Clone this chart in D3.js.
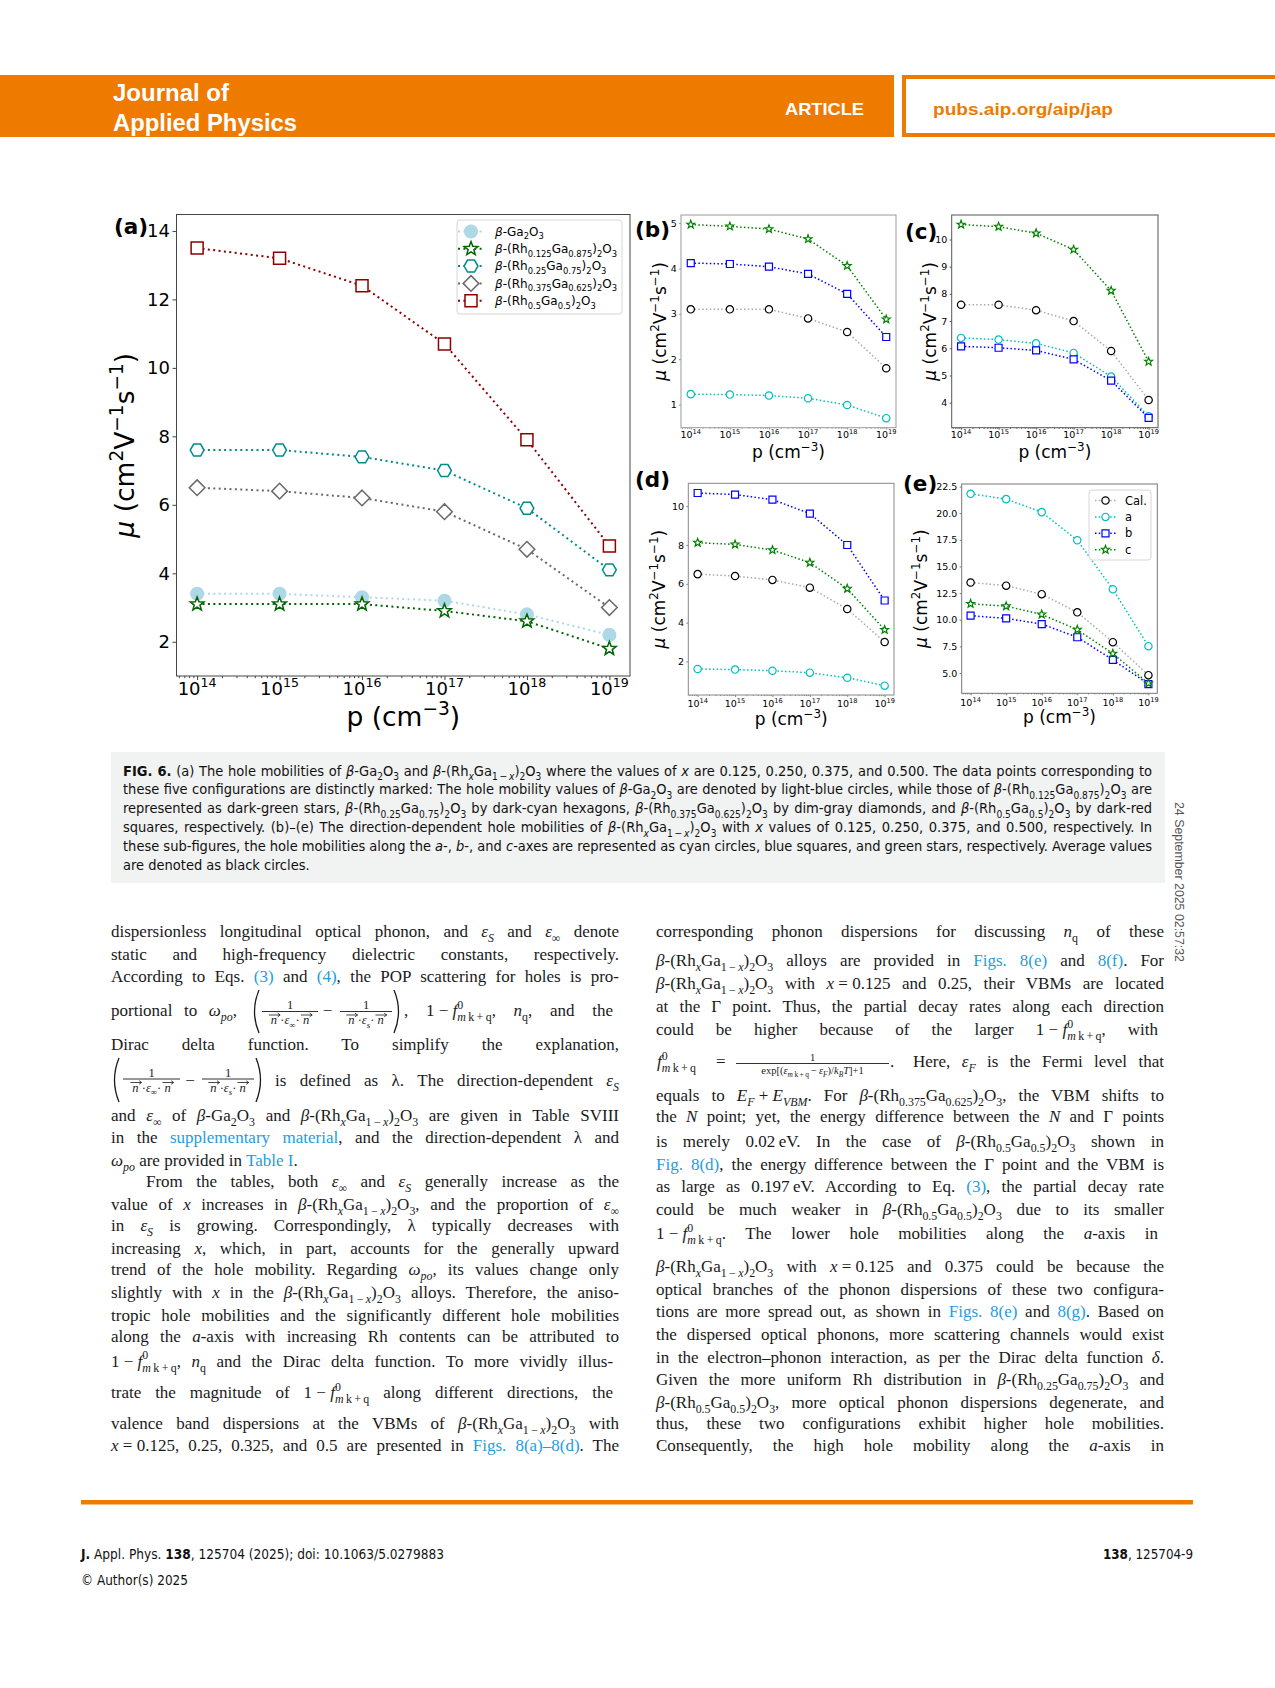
<!DOCTYPE html>
<html>
<head>
<meta charset="utf-8">
<script src="https://cdn.jsdelivr.net/npm/d3@7"></script>
<style>body{margin:0;background:#fff}</style>
</head>
<body>
<script>
// ---------- data ----------
const pConc = [1e14, 1e15, 1e16, 1e17, 1e18, 1e19];
const decadeExp = [14, 15, 16, 17, 18, 19];

// (a) average hole mobility of each configuration
const alloyLabels = ["*β*-Ga_{2}O_{3}", "*β*-(Rh_{0.125}Ga_{0.875})_{2}O_{3}", "*β*-(Rh_{0.25}Ga_{0.75})_{2}O_{3}",
  "*β*-(Rh_{0.375}Ga_{0.625})_{2}O_{3}", "*β*-(Rh_{0.5}Ga_{0.5})_{2}O_{3}"];
const muGa2O3  = [3.4, 3.4, 3.3, 3.2, 2.8, 2.2];
const muRh0125 = [3.1, 3.1, 3.1, 2.9, 2.6, 1.8];
const muRh025  = [7.6, 7.6, 7.4, 7.0, 5.9, 4.1];
const muRh0375 = [6.5, 6.4, 6.2, 5.8, 4.7, 3.0];
const muRh05   = [13.5, 13.2, 12.4, 10.7, 7.9, 4.8];

// (b)-(e) direction dependent mobilities (Cal. = average, from panel a)
const dirLabels = ["Cal.", "a", "b", "c"];
const bA = [1.23, 1.22, 1.20, 1.14, 0.99, 0.70];
const bB = [4.12, 4.10, 4.04, 3.88, 3.44, 2.49];
const bC = [4.97, 4.93, 4.87, 4.65, 4.06, 2.88];
const cA = [6.38, 6.32, 6.18, 5.83, 4.96, 3.50];
const cB = [6.07, 6.02, 5.92, 5.59, 4.81, 3.44];
const cC = [10.55, 10.47, 10.23, 9.63, 8.12, 5.51];
const dA = [1.61, 1.58, 1.52, 1.42, 1.16, 0.75];
const dB = [10.68, 10.60, 10.34, 9.62, 8.00, 5.14];
const dC = [8.12, 8.03, 7.74, 7.09, 5.75, 3.63];
const eA = [21.82, 21.32, 20.10, 17.46, 12.86, 7.52];
const eB = [10.38, 10.13, 9.60, 8.36, 6.24, 3.97];
const eC = [11.50, 11.28, 10.50, 9.07, 6.83, 4.04];

const ticksA = [2, 4, 6, 8, 10, 12, 14];
const ticksB = [1, 2, 3, 4, 5];
const ticksC = [4, 5, 6, 7, 8, 9, 10];
const ticksD = [2, 4, 6, 8, 10];
const ticksE = [5, 7.5, 10, 12.5, 15, 17.5, 20, 22.5];

// ---------- page setup ----------
const W = 1275, H = 1688;
const ORANGE = "#ef7a00", LINK = "#1f9ce0";
const SANS = "DejaVu Sans", SERIF = "Liberation Serif";
const NARROW = "'Liberation Sans Narrow','DejaVu Sans Condensed','DejaVu Sans',sans-serif";
const HEAD = "'Liberation Sans',Arial,sans-serif";
const T = "\u2009";  // thin space, used inside sub/superscripts
const M = "\u2005";  // math space around operators (not stretched by justification)

const svg = d3.select("body").append("svg")
  .attr("width", W).attr("height", H).attr("viewBox", `0 0 ${W} ${H}`);
svg.append("rect").attr("width", W).attr("height", H).attr("fill", "#fff");

// rich text: *italic*  ~bold~  <link>  _{sub}  ^{sup}
function rich(parent, str, o) {
  const fs = o.size;
  const t = parent.append("text").attr("x", o.x).attr("y", o.y)
    .attr("font-family", o.family || SANS).attr("font-size", fs)
    .attr("fill", o.fill || "#000").attr("text-anchor", o.anchor || "start");
  if (o.weight) t.attr("font-weight", o.weight);
  if (o.stretch) t.attr("font-stretch", o.stretch);
  let it = false, bd = false, ln = false, cur = 0, buf = "", pendingDx = 0, lastSup = null;
  const stack = [];
  function emit() {
    if (!buf) return;
    lastSup = null;
    const off = d3.sum(stack, s => s.off);
    const sc = Math.pow(0.7, stack.length);
    const txt = stack.length ? buf.replace(/ /g, T) : buf;
    const sp = t.append("tspan").text(txt).attr("font-size", fs * sc);
    if (Math.abs(off - cur) > 1e-6) { sp.attr("dy", off - cur); cur = off; }
    if (pendingDx) { sp.attr("dx", pendingDx); pendingDx = 0; }
    if (it) sp.attr("font-style", "italic");
    if (bd) sp.attr("font-weight", "bold");
    if (ln) sp.attr("fill", o.link || LINK);
    stack.forEach(s => s.spans.push(sp));
    buf = "";
  }
  for (let i = 0; i < str.length; i++) {
    const c = str[i];
    if ((c === "_" || c === "^") && str[i + 1] === "{") {
      emit();
      if (c === "_" && lastSup) pendingDx = -lastSup;
      lastSup = null;
      const sc = Math.pow(0.7, stack.length);
      stack.push({off: (c === "_" ? 0.3 : -0.42) * fs * sc, type: c, spans: []});
      i++;
    } else if (c === "}" && stack.length) {
      emit();
      const fr = stack.pop();
      lastSup = fr.type === "^" ? d3.sum(fr.spans, s => s.node().getComputedTextLength()) : null;
    } else if (c === "*") { emit(); it = !it; }
    else if (c === "~") { emit(); bd = !bd; }
    else if (c === "<") { emit(); ln = true; }
    else if (c === ">") { emit(); ln = false; }
    else buf += c;
  }
  emit();
  return t;
}

function justify(t, w) {
  const n = t.node();
  const len = n.getComputedTextLength();
  const spaces = (t.text().match(/ /g) || []).length;
  if (spaces > 0) t.style("word-spacing", ((w - len) / spaces) + "px");
  const len2 = n.getComputedTextLength();
  if (Math.abs(len2 - w) > 1.5) {
    t.style("word-spacing", null).attr("textLength", w)
      .attr("lengthAdjust", len > w ? "spacingAndGlyphs" : "spacing");
  }
  return t;
}
function fit(t, w) {
  return t.attr("textLength", w).attr("lengthAdjust", "spacingAndGlyphs");
}

// ---------- header ----------
svg.append("rect").attr("x", 0).attr("y", 75).attr("width", 894).attr("height", 62).attr("fill", ORANGE);
svg.append("rect").attr("x", 904).attr("y", 77).attr("width", 390).attr("height", 58)
  .attr("fill", "#fff").attr("stroke", ORANGE).attr("stroke-width", 4);
fit(svg.append("text").attr("x", 113).attr("y", 101).attr("font-family", HEAD).attr("font-weight", "bold")
  .attr("font-size", 23).attr("fill", "#fff").text("Journal of"), 116);
fit(svg.append("text").attr("x", 113).attr("y", 131).attr("font-family", HEAD).attr("font-weight", "bold")
  .attr("font-size", 23).attr("fill", "#fff").text("Applied Physics"), 184);
fit(svg.append("text").attr("x", 785).attr("y", 115).attr("font-family", HEAD).attr("font-weight", "bold")
  .attr("font-size", 17).attr("fill", "#fff").text("ARTICLE"), 79);
fit(svg.append("text").attr("x", 933).attr("y", 115).attr("font-family", HEAD).attr("font-weight", "bold")
  .attr("font-size", 17).attr("fill", ORANGE).text("pubs.aip.org/aip/jap"), 180);

// ---------- markers ----------
function marker(shape, s) {
  const poly = pts => d3.line()(pts) + "Z";
  if (shape === "circle") return d3.symbol(d3.symbolCircle, Math.PI * s * s * 1.1)();
  if (shape === "square") return poly([[-s, -s], [s, -s], [s, s], [-s, s]]);
  if (shape === "diamond") { const R = s * 1.3; return poly([[0, -R], [R, 0], [0, R], [-R, 0]]); }
  if (shape === "hexagon") { const R = s * 1.15; return poly(d3.range(6).map(k => [R * Math.cos(k * Math.PI / 3), R * Math.sin(k * Math.PI / 3)])); }
  if (shape === "star") {
    const R = s * 1.2, r = R * 0.42;
    return poly(d3.range(10).map(k => {
      const a = -Math.PI / 2 + k * Math.PI / 5, rr = k % 2 ? r : R;
      return [rr * Math.cos(a), rr * Math.sin(a)];
    }));
  }
}

// ---------- panels ----------
const xDomain = [Math.pow(10, 13.75), Math.pow(10, 19.25)];
const C = {lb: "#add8e6", dg: "#006400", dc: "#008b8b", gr: "#696969", dr: "#8b0000",
  cy: "#00bfbf", bl: "#0000ff", gn: "#008000", bk: "#000", cal: "#a9a9a9"};

const big = {ms: 6, mew: 1.5, lw: 2, dash: "2,3.4", tfs: 18, lfs: 26.5, tick: 4, pad: 2.5, xlab: 19, xtitle: 50};
const small = {ms: 3.5, mew: 1.2, lw: 1.5, dash: "1.5,2.3", tfs: 9.5, lfs: 17, tick: 2, pad: 2.3, xtitle: 30};

function dirSeries(avg, a, b, c) {
  return [
    {v: avg, shape: "circle", edge: C.bk, line: C.cal, fill: "#fff"},
    {v: a, shape: "circle", edge: C.cy, line: C.cy, fill: "#fff"},
    {v: b, shape: "square", edge: C.bl, line: C.bl, fill: "#fff"},
    {v: c, shape: "star", edge: C.gn, line: C.gn, fill: "#fff"}
  ];
}

const panels = [
  Object.assign({}, big, {tag: "(a)", tagX: 114, tagY: 234, x0: 176.5, x1: 630, y0: 214.5, y1: 676, yd: [1.0, 14.48],
    yt: ticksA, fmt: d3.format("d"), frame: "#444", ylabX: 134,
    series: [
      {v: muGa2O3, shape: "circle", edge: C.lb, line: C.lb, fill: C.lb},
      {v: muRh0125, shape: "star", edge: C.dg, line: C.dg, fill: "#fff"},
      {v: muRh025, shape: "hexagon", edge: C.dc, line: C.dc, fill: "#fff"},
      {v: muRh0375, shape: "diamond", edge: C.gr, line: C.gr, fill: "#fff"},
      {v: muRh05, shape: "square", edge: C.dr, line: C.dr, fill: "#fff"}
    ],
    legend: {labels: alloyLabels, x0: 457, x1: 622, y0: 220, y1: 314, first: 231.5, step: 17.3, lx0: 458, lx1: 483, mx: 471, tx: 495, fs: 12}}),
  Object.assign({}, small, {tag: "(b)", tagX: 635, tagY: 237, x0: 681, x1: 896, y0: 215, y1: 427.7, yd: [0.49, 5.18],
    yt: ticksB, fmt: d3.format("d"), frame: "#999", ylabX: 666, xlab: 10.5,
    series: dirSeries(muRh0125, bA, bB, bC)}),
  Object.assign({}, small, {tag: "(c)", tagX: 905, tagY: 239, x0: 951.7, x1: 1158, y0: 215, y1: 427.7, yd: [3.08, 10.9],
    yt: ticksC, fmt: d3.format("d"), frame: "#555", ylabX: 936, xlab: 10.5,
    series: dirSeries(muRh025, cA, cB, cC)}),
  Object.assign({}, small, {tag: "(d)", tagX: 635, tagY: 487, x0: 688.3, x1: 894, y0: 483.3, y1: 695, yd: [0.27, 11.18],
    yt: ticksD, fmt: d3.format("d"), frame: "#888", ylabX: 665, xlab: 11.5,
    series: dirSeries(muRh0375, dA, dB, dC)}),
  Object.assign({}, small, {tag: "(e)", tagX: 903, tagY: 491, x0: 961.7, x1: 1157.3, y0: 484, y1: 693.3, yd: [3.1, 22.74],
    yt: ticksE, fmt: d3.format(".1f"), frame: "#777", ylabX: 927, xlab: 12.5,
    series: dirSeries(muRh05, eA, eB, eC),
    legend: {labels: dirLabels, x0: 1089, x1: 1151, y0: 490, y1: 560, first: 500.5, step: 16.4, lx0: 1095, lx1: 1116, mx: 1105.5, tx: 1125, fs: 11.5}})
];

function drawPanel(p) {
  const g = svg.append("g");
  const x = d3.scaleLog().domain(xDomain).range([p.x0, p.x1]);
  const y = d3.scaleLinear().domain(p.yd).range([p.y1, p.y0]);

  // y axis
  const ya = g.append("g").attr("transform", `translate(${p.x0},0)`)
    .call(d3.axisLeft(y).tickValues(p.yt).tickSize(p.tick).tickPadding(p.pad).tickFormat(p.fmt));
  ya.select(".domain").remove();
  ya.attr("font-size", p.tfs).attr("font-family", SANS).attr("color", p.frame);
  ya.selectAll("text").attr("fill", "#000");

  // x axis major + minor ticks
  const minor = [];
  d3.range(13, 20).forEach(e => d3.range(2, 10).forEach(k => {
    const v = k * Math.pow(10, e);
    if (v > xDomain[0] && v < xDomain[1]) minor.push(v);
  }));
  const xa = g.append("g").attr("transform", `translate(0,${p.y1})`).attr("color", p.frame)
    .call(d3.axisBottom(x).tickValues(pConc).tickSize(p.tick).tickFormat(""));
  xa.select(".domain").remove();
  const xm = g.append("g").attr("transform", `translate(0,${p.y1})`).attr("color", p.frame)
    .call(d3.axisBottom(x).tickValues(minor).tickSize(p.tick * 0.55).tickFormat(""));
  xm.select(".domain").remove();
  pConc.forEach((d, i) => rich(g, "10^{" + decadeExp[i] + "}", {x: x(d), y: p.y1 + p.xlab, size: p.tfs, anchor: "middle"}));

  // frame
  g.append("rect").attr("x", p.x0).attr("y", p.y0).attr("width", p.x1 - p.x0).attr("height", p.y1 - p.y0)
    .attr("fill", "none").attr("stroke", p.frame).attr("stroke-width", 1);

  // series
  const line = d3.line().x(d => x(d.p)).y(d => y(d.v));
  p.series.forEach(s => {
    const pts = pConc.map((c, i) => ({p: c, v: s.v[i]}));
    g.append("path").datum(pts).attr("d", line).attr("fill", "none")
      .attr("stroke", s.line).attr("stroke-width", p.lw).attr("stroke-dasharray", p.dash);
    g.selectAll(null).data(pts).join("path")
      .attr("transform", d => `translate(${x(d.p)},${y(d.v)})`)
      .attr("d", marker(s.shape, p.ms))
      .attr("fill", s.fill).attr("stroke", s.edge).attr("stroke-width", p.mew);
  });

  // labels
  rich(g, "p (cm^{−3})", {x: (p.x0 + p.x1) / 2, y: p.y1 + p.xtitle, size: p.lfs, anchor: "middle"});
  const yl = g.append("g").attr("transform", `translate(${p.ylabX},${(p.y0 + p.y1) / 2}) rotate(-90)`);
  rich(yl, "*μ* (cm^{2}V^{−1}s^{−1})", {x: 0, y: 0, size: p.lfs, anchor: "middle"});
  g.append("text").attr("x", p.tagX).attr("y", p.tagY).attr("font-family", SANS).attr("font-weight", "bold")
    .attr("font-size", 21.5).text(p.tag);

  // legend
  if (p.legend) {
    const L = p.legend;
    g.append("rect").attr("x", L.x0).attr("y", L.y0).attr("width", L.x1 - L.x0).attr("height", L.y1 - L.y0)
      .attr("rx", 3).attr("fill", "#fff").attr("fill-opacity", 0.85).attr("stroke", "#d6d6d6").attr("stroke-width", 1);
    p.series.forEach((s, i) => {
      const yy = L.first + i * L.step;
      g.append("line").attr("x1", L.lx0).attr("x2", L.lx1).attr("y1", yy).attr("y2", yy)
        .attr("stroke", s.line).attr("stroke-width", p.lw).attr("stroke-dasharray", p.dash);
      g.append("path").attr("transform", `translate(${L.mx},${yy})`).attr("d", marker(s.shape, p.ms))
        .attr("fill", s.fill).attr("stroke", s.edge).attr("stroke-width", p.mew);
      rich(g, L.labels[i], {x: L.tx, y: yy + L.fs * 0.36, size: L.fs});
    });
  }
}
panels.forEach(drawPanel);

// ---------- caption ----------
svg.append("rect").attr("x", 111).attr("y", 752).attr("width", 1054).attr("height", 131).attr("fill", "#f1f2f2");
const captionLines = [
  "~FIG. 6.~ (a) The hole mobilities of *β*-Ga_{2}O_{3} and *β*-(Rh_{*x*}Ga_{1 − *x*})_{2}O_{3} where the values of *x* are 0.125, 0.250, 0.375, and 0.500. The data points corresponding to",
  "these five configurations are distinctly marked: The hole mobility values of *β*-Ga_{2}O_{3} are denoted by light-blue circles, while those of *β*-(Rh_{0.125}Ga_{0.875})_{2}O_{3} are",
  "represented as dark-green stars, *β*-(Rh_{0.25}Ga_{0.75})_{2}O_{3} by dark-cyan hexagons, *β*-(Rh_{0.375}Ga_{0.625})_{2}O_{3} by dim-gray diamonds, and *β*-(Rh_{0.5}Ga_{0.5})_{2}O_{3} by dark-red",
  "squares, respectively. (b)–(e) The direction-dependent hole mobilities of *β*-(Rh_{*x*}Ga_{1 − *x*})_{2}O_{3} with *x* values of 0.125, 0.250, 0.375, and 0.500, respectively. In",
  "these sub-figures, the hole mobilities along the *a*-, *b*-, and *c*-axes are represented as cyan circles, blue squares, and green stars, respectively. Average values",
  "are denoted as black circles."
];
captionLines.forEach((s, i) => {
  const t = rich(svg, s, {x: 123, y: 775.5 + i * 18.9, size: 14.5, family: NARROW, stretch: "condensed", fill: "#111"});
  if (i < captionLines.length - 1) justify(t, 1029);
});

// ---------- body text ----------
const BFS = 17;
const leftLines = [
  [937, "dispersionless longitudinal optical phonon, and *ε*_{*S*} and *ε*_{∞} denote"],
  [959.7, "static and high-frequency dielectric constants, respectively."],
  [982.3, "According to Eqs. <(3)> and <(4)>, the POP scattering for holes is pro-"],
  [1016, null],
  [1050.2, "Dirac delta function. To simplify the explanation,"],
  [1085.7, null],
  [1121.3, "and *ε*_{∞} of *β*-Ga_{2}O_{3} and *β*-(Rh_{*x*}Ga_{1 − *x*})_{2}O_{3} are given in Table SVIII"],
  [1142.8, "in the <supplementary material>, and the direction-dependent λ and"],
  [1165.5, "*ω*_{*po*} are provided in <Table I>.", "last"],
  [1187, "From the tables, both *ε*_{∞} and *ε*_{*S*} generally increase as the", "indent"],
  [1209.5, "value of *x* increases in *β*-(Rh_{*x*}Ga_{1 − *x*})_{2}O_{3}, and the proportion of *ε*_{∞}"],
  [1231, "in *ε*_{*S*} is growing. Correspondingly, λ typically decreases with"],
  [1253.7, "increasing *x*, which, in part, accounts for the generally upward"],
  [1275.3, "trend of the hole mobility. Regarding *ω*_{*po*}, its values change only"],
  [1298, "slightly with *x* in the *β*-(Rh_{*x*}Ga_{1 − *x*})_{2}O_{3} alloys. Therefore, the aniso-"],
  [1320.5, "tropic hole mobilities and the significantly different hole mobilities"],
  [1342, "along the *a*-axis with increasing Rh contents can be attributed to"],
  [1366.5, `1${M}−${M}*f*^{0}_{*m* k + q}, *n*_{q} and the Dirac delta function. To more vividly illus-`],
  [1398, `trate the magnitude of 1${M}−${M}*f*^{0}_{*m* k + q} along different directions, the`],
  [1429.3, "valence band dispersions at the VBMs of *β*-(Rh_{*x*}Ga_{1 − *x*})_{2}O_{3} with"],
  [1450.8, `*x*${M}=${M}0.125, 0.25, 0.325, and 0.5 are presented in <Figs. 8(a)–8(d)>. The`]
];
const rightLines = [
  [937.1, "corresponding phonon dispersions for discussing *n*_{q} of these"],
  [966.2, "*β*-(Rh_{*x*}Ga_{1 − *x*})_{2}O_{3} alloys are provided in <Figs. 8(e)> and <8(f)>. For"],
  [988.8, `*β*-(Rh_{*x*}Ga_{1 − *x*})_{2}O_{3} with *x*${M}=${M}0.125 and 0.25, their VBMs are located`],
  [1011.5, "at the Γ point. Thus, the partial decay rates along each direction"],
  [1035.1, `could be higher because of the larger 1${M}−${M}*f*^{0}_{*m* k + q}, with`],
  [1067, null],
  [1100.8, `equals to *E*_{*F*}${M}+${M}*E*_{*VBM*}. For *β*-(Rh_{0.375}Ga_{0.625})_{2}O_{3}, the VBM shifts to`],
  [1122.3, "the *N* point; yet, the energy difference between the *N* and Γ points"],
  [1147.1, `is merely 0.02${T}eV. In the case of *β*-(Rh_{0.5}Ga_{0.5})_{2}O_{3} shown in`],
  [1169.7, "<Fig. 8(d)>, the energy difference between the Γ point and the VBM is"],
  [1192.4, `as large as 0.197${T}eV. According to Eq. <(3)>, the partial decay rate`],
  [1215, "could be much weaker in *β*-(Rh_{0.5}Ga_{0.5})_{2}O_{3} due to its smaller"],
  [1238.7, `1${M}−${M}*f*^{0}_{*m* k + q}. The lower hole mobilities along the *a*-axis in`],
  [1272.1, `*β*-(Rh_{*x*}Ga_{1 − *x*})_{2}O_{3} with *x*${M}=${M}0.125 and 0.375 could be because the`],
  [1294.7, "optical branches of the phonon dispersions of these two configura-"],
  [1317.3, "tions are more spread out, as shown in <Figs. 8(e)> and <8(g)>. Based on"],
  [1339.9, "the dispersed optical phonons, more scattering channels would exist"],
  [1362.5, "in the electron–phonon interaction, as per the Dirac delta function *δ*."],
  [1385.1, "Given the more uniform Rh distribution in *β*-(Rh_{0.25}Ga_{0.75})_{2}O_{3} and"],
  [1407.8, "*β*-(Rh_{0.5}Ga_{0.5})_{2}O_{3}, more optical phonon dispersions degenerate, and"],
  [1429.3, "thus, these two configurations exhibit higher hole mobilities."],
  [1450.8, "Consequently, the high hole mobility along the *a*-axis in"]
];
function bodyColumn(lines, x0, x1) {
  lines.forEach(([yy, s, mode]) => {
    if (!s) return;
    const xs = mode === "indent" ? x0 + 35 : x0;
    const t = rich(svg, s, {x: xs, y: yy, size: BFS, family: SERIF, fill: "#1a1a1a"});
    if (mode !== "last") justify(t, x1 - xs);
  });
}
bodyColumn(leftLines, 111, 619);
bodyColumn(rightLines, 656, 1164);

function paren(x, top, bot, side) {
  const w = 7, mid = (top + bot) / 2;
  const d = side === "left" ? `M${x + w},${top} Q${x - 2},${mid} ${x + w},${bot}` : `M${x - w},${top} Q${x + 2},${mid} ${x - w},${bot}`;
  svg.append("path").attr("d", d).attr("fill", "none").attr("stroke", "#1a1a1a").attr("stroke-width", 1.3);
}
function frac(x0, x1, yBar, num, den, fs, arrows) {
  svg.append("line").attr("x1", x0).attr("x2", x1).attr("y1", yBar).attr("y2", yBar)
    .attr("stroke", "#1a1a1a").attr("stroke-width", 0.9);
  rich(svg, num, {x: (x0 + x1) / 2, y: yBar - 2.5, size: fs, anchor: "middle", family: SERIF, fill: "#1a1a1a"});
  const d = rich(svg, den, {x: (x0 + x1) / 2, y: yBar + fs * 1.0, size: fs, anchor: "middle", family: SERIF, fill: "#1a1a1a"});
  if (arrows) {
    const n = d.node(), k = n.getNumberOfChars();
    [0, k - 1].forEach(ci => {
      const e = n.getExtentOfChar(ci);
      const ay = e.y + 2, ax0 = e.x - 2, ax1 = e.x + e.width + 3;
      svg.append("path").attr("d", `M${ax0},${ay}H${ax1}M${ax1 - 2.5},${ay - 1.8}L${ax1},${ay}L${ax1 - 2.5},${ay + 1.8}`)
        .attr("fill", "none").attr("stroke", "#1a1a1a").attr("stroke-width", 0.8);
    });
  }
}
// left line 4
justify(rich(svg, "portional to *ω*_{*po*},", {x: 111, y: 1016, size: BFS, family: SERIF, fill: "#1a1a1a"}), 126);
paren(252, 990, 1033, "left");
frac(262, 318, 1011.5, "1", "*n* ·*ε*_{∞}· *n*", 12.5, true);
rich(svg, "−", {x: 327.5, y: 1016, size: BFS, family: SERIF, anchor: "middle", fill: "#1a1a1a"});
frac(340, 392, 1011.5, "1", "*n* ·*ε*_{*s*}· *n*", 12.5, true);
paren(401, 990, 1033, "right");
justify(rich(svg, `, 1${M}−${M}*f*^{0}_{*m* k + q}, *n*_{q}, and the`, {x: 404, y: 1016, size: BFS, family: SERIF, fill: "#1a1a1a"}), 215);
// left line 6
paren(112, 1058, 1102, "left");
frac(123, 180, 1079, "1", "*n* ·*ε*_{∞}· *n*", 12.5, true);
rich(svg, "−", {x: 190, y: 1086, size: BFS, family: SERIF, anchor: "middle", fill: "#1a1a1a"});
frac(202, 254, 1079, "1", "*n* ·*ε*_{*s*}· *n*", 12.5, true);
paren(263, 1058, 1102, "right");
justify(rich(svg, "is defined as λ. The direction-dependent *ε*_{*S*}", {x: 275, y: 1085.7, size: BFS, family: SERIF, fill: "#1a1a1a"}), 344);
// right line 6
rich(svg, "*f*^{0}_{*m* k + q}", {x: 657, y: 1067, size: BFS, family: SERIF, fill: "#1a1a1a"});
rich(svg, "=", {x: 716, y: 1067, size: BFS, family: SERIF, fill: "#1a1a1a"});
frac(736, 889, 1063.5, "1", `exp[(*ε*_{*m* k + q}${T}−${T}*ε*_{*F*})/*k*_{*B*}*T*]+1`, 10.5, false);
rich(svg, ".", {x: 890, y: 1067, size: BFS, family: SERIF, fill: "#1a1a1a"});
justify(rich(svg, "Here, *ε*_{*F*} is the Fermi level that", {x: 913, y: 1067, size: BFS, family: SERIF, fill: "#1a1a1a"}), 251);

// ---------- side stamp ----------
fit(svg.append("text").attr("transform", "translate(1175,802) rotate(90)").attr("font-family", HEAD)
  .attr("font-size", 12).attr("fill", "#555").text("24 September 2025 02:57:32"), 160);

// ---------- footer ----------
svg.append("rect").attr("x", 81).attr("y", 1500).attr("width", 1112).attr("height", 4.5).attr("fill", ORANGE);
fit(rich(svg, "~J.~ Appl. Phys. ~138~, 125704 (2025); doi: 10.1063/5.0279883", {x: 81, y: 1559, size: 14, family: NARROW, stretch: "condensed", fill: "#111"}), 363);
fit(rich(svg, "~138~, 125704-9", {x: 1193, y: 1559, size: 14, family: NARROW, stretch: "condensed", fill: "#111", anchor: "end"}), 90);
fit(rich(svg, "© Author(s) 2025", {x: 81, y: 1585, size: 14, family: NARROW, stretch: "condensed", fill: "#111"}), 107);
</script>
</body>
</html>
